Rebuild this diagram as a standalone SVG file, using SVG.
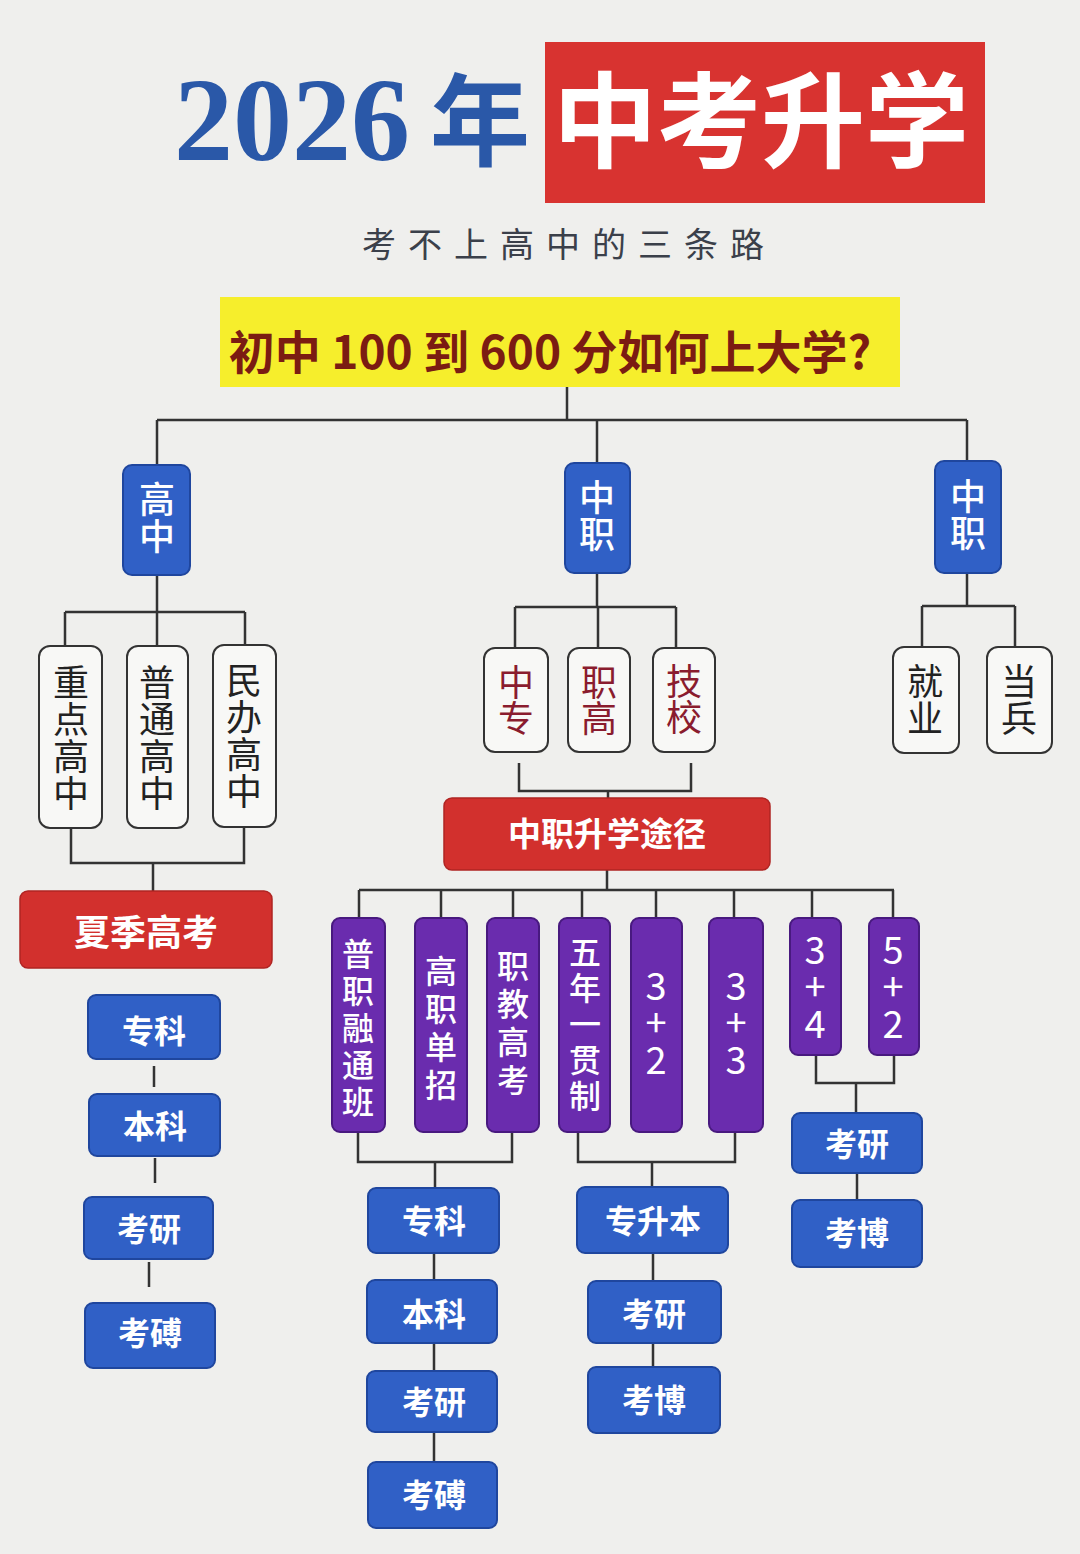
<svg xmlns="http://www.w3.org/2000/svg" width="1080" height="1554" viewBox="0 0 1080 1554">
<style>
.cjk{font-family:"Noto Sans CJK SC","Noto Sans",sans-serif}
.ln{stroke:#333;stroke-width:2.5;fill:none}
.blue{fill:#3060c6;stroke:#1f469e;stroke-width:2}
.red{fill:#d2302d;stroke:#b02422;stroke-width:1.5}
.pur{fill:#6a2cae;stroke:#48197f;stroke-width:2}
.out{fill:#f8f8f6;stroke:#333;stroke-width:2}
.wt{fill:#fff;font-weight:700;text-anchor:middle}
.bt{fill:#fff;font-weight:700;font-size:32px;text-anchor:middle}
.v{writing-mode:vertical-rl;text-anchor:middle}
.vt{fill:#fff;font-weight:500;font-size:36px;letter-spacing:1px}
.pt{fill:#fff;font-weight:500;font-size:32px;letter-spacing:5px}
.num{fill:#fff;font-weight:400;font-size:38px;letter-spacing:-1px;text-orientation:upright}
.ot{fill:#222;font-size:36px;letter-spacing:1px}
.rt{fill:#8a1c2e;font-size:36px;letter-spacing:0px}
</style>
<rect width="1080" height="1554" fill="#efefed"/>

<g id="title">
<text x="174" y="160" font-family="Liberation Serif,serif" font-weight="700" font-size="118" fill="#2a58a8">2026</text>
<text x="430" y="158" class="cjk" font-weight="700" font-size="100" fill="#2a58a8">年</text>
<rect x="545" y="42" width="440" height="161" fill="#d83330"/>
<text x="553" y="160" class="cjk" font-weight="700" font-size="104" fill="#fff">中考升学</text>
</g>
<g id="subtitle">
<text x="362" y="257" class="cjk" font-size="34" letter-spacing="12" fill="#3b404a">考不上高中的三条路</text>
</g>
<g id="question">
<rect x="220" y="297" width="680" height="90" fill="#f6ee2c"/>
<text x="550" y="369" class="cjk" font-weight="700" font-size="46" fill="#7b1c12" text-anchor="middle">初中 100 到 600 分如何上大学?</text>
</g>

<g id="connectors">
<path class="ln" d="M567 387V420M157 420H967M157 420V465M597 420V463M967 420V461"/>
<path class="ln" d="M157 575V612M65 612H245M65 612V645M157 612V645M245 612V645"/>
<path class="ln" d="M71 828V863H244V828M153 863V891"/>
<path class="ln" d="M154 1066V1087M155 1158V1183M149 1262V1287"/>
<path class="ln" d="M597 573V607M515 607H676M515 607V648M598 607V648M676 607V648"/>
<path class="ln" d="M967 573V606M922 606H1015M922 606V647M1015 606V647"/>
<path class="ln" d="M519 763V791H691V763M608 791V798"/>
<path class="ln" d="M607 870V890M359 890H894M359 890V918M441 890V918M513 890V918M582 890V918M656 890V918M734 890V918M812 890V918M893 890V918"/>
<path class="ln" d="M358 1132V1162H512V1132M435 1162V1188"/>
<path class="ln" d="M578 1132V1162H735V1132M652 1162V1187"/>
<path class="ln" d="M816 1055V1083H894V1055M856 1083V1113"/>
<path class="ln" d="M434 1253V1280M434 1343V1371M434 1432V1462"/>
<path class="ln" d="M653 1253V1281M653 1343V1367"/>
<path class="ln" d="M857 1173V1200"/>
</g>

<g class="cjk">
<g id="gaozhong"><rect class="blue" x="123" y="465" width="67" height="110" rx="9"/><text class="v vt" x="157" y="518">高中</text></g>
<g id="zhongzhi1"><rect class="blue" x="565" y="463" width="65" height="110" rx="9"/><text class="v vt" x="597" y="516">中职</text></g>
<g id="zhongzhi2"><rect class="blue" x="935" y="461" width="66" height="112" rx="9"/><text class="v vt" x="968" y="515">中职</text></g>

<g id="zhongdian"><rect class="out" x="39" y="646" width="63" height="182" rx="11"/><text class="v ot" x="71" y="738">重点高中</text></g>
<g id="putong"><rect class="out" x="127" y="646" width="61" height="182" rx="11"/><text class="v ot" x="157" y="738">普通高中</text></g>
<g id="minban"><rect class="out" x="213" y="645" width="63" height="182" rx="11"/><text class="v ot" x="244" y="736">民办高中</text></g>

<g id="xiaji"><rect class="red" x="20" y="891" width="252" height="77" rx="8"/><text class="wt" x="146" y="946" font-size="36">夏季高考</text></g>
<g id="l_zhuanke"><rect class="blue" x="88" y="995" width="132" height="64" rx="8"/><text class="bt" x="154" y="1043">专科</text></g>
<g id="l_benke"><rect class="blue" x="89" y="1094" width="131" height="62" rx="8"/><text class="bt" x="155" y="1138">本科</text></g>
<g id="l_kaoyan"><rect class="blue" x="84" y="1197" width="129" height="62" rx="8"/><text class="bt" x="149" y="1241">考研</text></g>
<g id="l_kaobo"><rect class="blue" x="85" y="1303" width="130" height="65" rx="8"/><text class="bt" x="150" y="1345">考磗</text></g>

<g id="zhongzhuan"><rect class="out" x="484" y="648" width="64" height="104" rx="11"/><text class="v rt" x="516" y="700">中专</text></g>
<g id="zhigao"><rect class="out" x="568" y="648" width="62" height="104" rx="11"/><text class="v rt" x="599" y="700">职高</text></g>
<g id="jixiao"><rect class="out" x="653" y="648" width="62" height="104" rx="11"/><text class="v rt" x="684" y="699">技校</text></g>
<g id="jiuye"><rect class="out" x="893" y="647" width="66" height="106" rx="11"/><text class="v ot" x="925" y="700">就业</text></g>
<g id="dangbing"><rect class="out" x="987" y="647" width="65" height="106" rx="11"/><text class="v ot" x="1019" y="700">当兵</text></g>

<g id="shengxue"><rect class="red" x="444" y="798" width="326" height="72" rx="8"/><text class="wt" x="607" y="846" font-size="33">中职升学途径</text></g>

<g id="puzhi"><rect class="pur" x="332" y="918" width="53" height="214" rx="8"/><text class="v pt" x="358" y="1030">普职融通班</text></g>
<g id="danzhao"><rect class="pur" x="415" y="918" width="52" height="214" rx="8"/><text class="v pt" x="441" y="1031" style="letter-spacing:6px">高职单招</text></g>
<g id="zhijiao"><rect class="pur" x="487" y="918" width="52" height="214" rx="8"/><text class="v pt" x="513" y="1026" style="letter-spacing:6px">职教高考</text></g>
<g id="wunian"><rect class="pur" x="559" y="918" width="51" height="214" rx="8"/><text class="v pt" x="585" y="1026" style="letter-spacing:4px">五年一贯制</text></g>
<g id="p32"><rect class="pur" x="631" y="918" width="51" height="214" rx="8"/><text class="v num" x="656" y="1022">3+2</text></g>
<g id="p33"><rect class="pur" x="709" y="918" width="54" height="214" rx="8"/><text class="v num" x="736" y="1022">3+3</text></g>
<g id="p34"><rect class="pur" x="790" y="918" width="51" height="137" rx="8"/><text class="v num" x="815" y="986">3+4</text></g>
<g id="p52"><rect class="pur" x="869" y="918" width="50" height="137" rx="8"/><text class="v num" x="893" y="986">5+2</text></g>

<g id="m_zhuanke"><rect class="blue" x="368" y="1188" width="131" height="65" rx="8"/><text class="bt" x="434" y="1233">专科</text></g>
<g id="m_benke"><rect class="blue" x="367" y="1280" width="130" height="63" rx="8"/><text class="bt" x="434" y="1326">本科</text></g>
<g id="m_kaoyan"><rect class="blue" x="367" y="1371" width="130" height="61" rx="8"/><text class="bt" x="434" y="1414">考研</text></g>
<g id="m_kaobo"><rect class="blue" x="368" y="1462" width="129" height="66" rx="8"/><text class="bt" x="434" y="1507">考磗</text></g>

<g id="zhuanshengben"><rect class="blue" x="577" y="1187" width="151" height="66" rx="8"/><text class="bt" x="653" y="1233">专升本</text></g>
<g id="c_kaoyan"><rect class="blue" x="588" y="1281" width="133" height="62" rx="8"/><text class="bt" x="654" y="1326">考研</text></g>
<g id="c_kaobo"><rect class="blue" x="588" y="1367" width="132" height="66" rx="8"/><text class="bt" x="654" y="1412">考博</text></g>

<g id="r_kaoyan"><rect class="blue" x="792" y="1113" width="130" height="60" rx="8"/><text class="bt" x="857" y="1156">考研</text></g>
<g id="r_kaobo"><rect class="blue" x="792" y="1200" width="130" height="67" rx="8"/><text class="bt" x="857" y="1245">考博</text></g>
</g>
</svg>
